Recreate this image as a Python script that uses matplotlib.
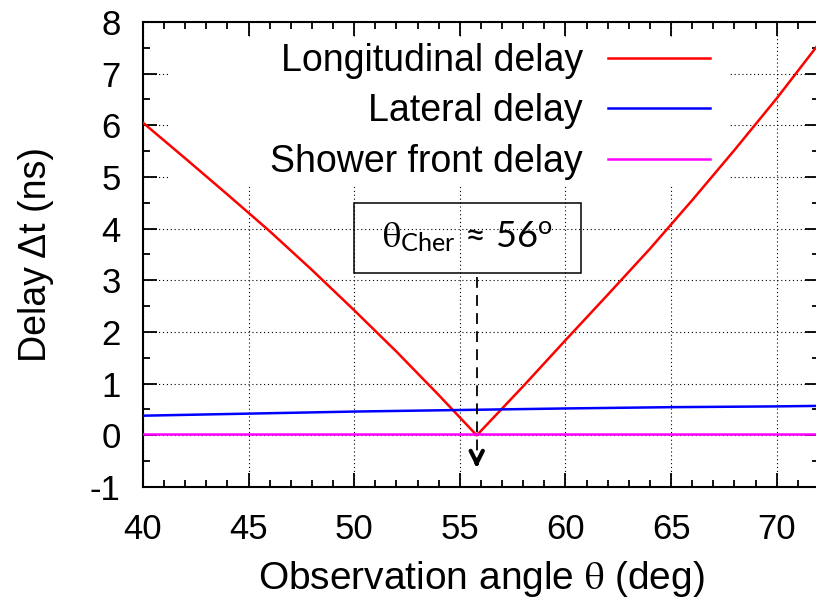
import numpy as np
import matplotlib
matplotlib.use("Agg")
import matplotlib.pyplot as plt
from matplotlib.patches import Rectangle
from matplotlib.ticker import MultipleLocator

plt.rcParams['font.family'] = ['Liberation Sans', 'DejaVu Sans']
plt.rcParams['mathtext.fontset'] = 'stix'
plt.rcParams['axes.unicode_minus'] = False

# --- data ---
theta_long = [40, 42, 44, 46, 48, 50, 52, 54, 55.8, 58, 60, 62, 64, 66, 68, 70, 72]
delay_long = [6.05, 5.36, 4.66, 3.95, 3.20, 2.42, 1.62, 0.78, 0.0,
              0.95, 1.84, 2.72, 3.61, 4.55, 5.52, 6.52, 7.58]
theta_lat = [40, 45, 50, 55, 60, 65, 70, 72]
delay_lat = [0.38, 0.42, 0.46, 0.49, 0.52, 0.545, 0.56, 0.57]
theta_front = [40, 72]
delay_front = [0.02, 0.02]
theta_cher = 55.8

fig = plt.figure(figsize=(8.16, 6.04), dpi=100)
ax = fig.add_axes([0.1752, 0.1937, 0.8284, 0.770])

ax.set_axisbelow(True)
ax.grid(True, which='major', color='black', linestyle=(0, (1, 2.5)), linewidth=0.8)

# white key box hiding the grid behind the legend
ax.add_patch(Rectangle((41.3, 4.85), 26.5, 2.85, facecolor='white', edgecolor='none', zorder=1))

ax.plot(theta_long, delay_long, color='#ff0000', lw=1.8, label='Longitudinal delay', zorder=3)
ax.plot(theta_lat, delay_lat, color='#0000ff', lw=1.8, label='Lateral delay', zorder=3)
ax.plot(theta_front, delay_front, color='#ff00ff', lw=1.8, label='Shower front delay', zorder=3)

# Cherenkov angle box and arrow
ax.add_patch(Rectangle((50.0, 3.15), 10.75, 1.35, facecolor='none', edgecolor='black', lw=1.1, zorder=4))
ax.text(55.38, 3.84, r'$\mathrm{θ}_{\mathregular{Cher}}$ ≈ 56$^{\mathregular{o}}$',
        family=['Lato', 'DejaVu Sans'], fontsize=26, ha='center', va='center', zorder=5)
ax.plot([theta_cher, theta_cher], [3.07, -0.45], color='black', lw=1.3, ls=(0, (6, 4)), zorder=4)
ax.annotate('', xy=(theta_cher, -0.68), xytext=(theta_cher, -0.45),
            arrowprops=dict(arrowstyle='->', lw=3, color='black', mutation_scale=22), zorder=4)

ax.set_xlim(40, 72)
ax.set_ylim(-1, 8)
ax.xaxis.set_major_locator(MultipleLocator(5))
ax.xaxis.set_minor_locator(MultipleLocator(1))
ax.yaxis.set_major_locator(MultipleLocator(1))
ax.yaxis.set_minor_locator(MultipleLocator(0.5))
ax.tick_params(which='both', direction='in', top=True, right=True, width=1.3, labelsize=25)
ax.tick_params(which='major', length=10)
ax.tick_params(which='minor', length=5)
ax.tick_params(axis='x', pad=19)
ax.tick_params(axis='y', pad=16)
for s in ax.spines.values():
    s.set_linewidth(1.5)

ax.set_xlabel(r'Observation angle $\mathrm{θ}$ (deg)', fontsize=28, labelpad=9)
ax.set_ylabel('Delay Δt (ns)', fontsize=27, labelpad=26)

leg = ax.legend(loc='upper right', bbox_to_anchor=(0.839, 0.955), frameon=False, markerfirst=False,
                fontsize=27, handlelength=2.72, handletextpad=0.67, labelspacing=0.39,
                borderpad=0, borderaxespad=0)
leg.set_zorder(6)

fig.savefig('out.png', dpi=100)
